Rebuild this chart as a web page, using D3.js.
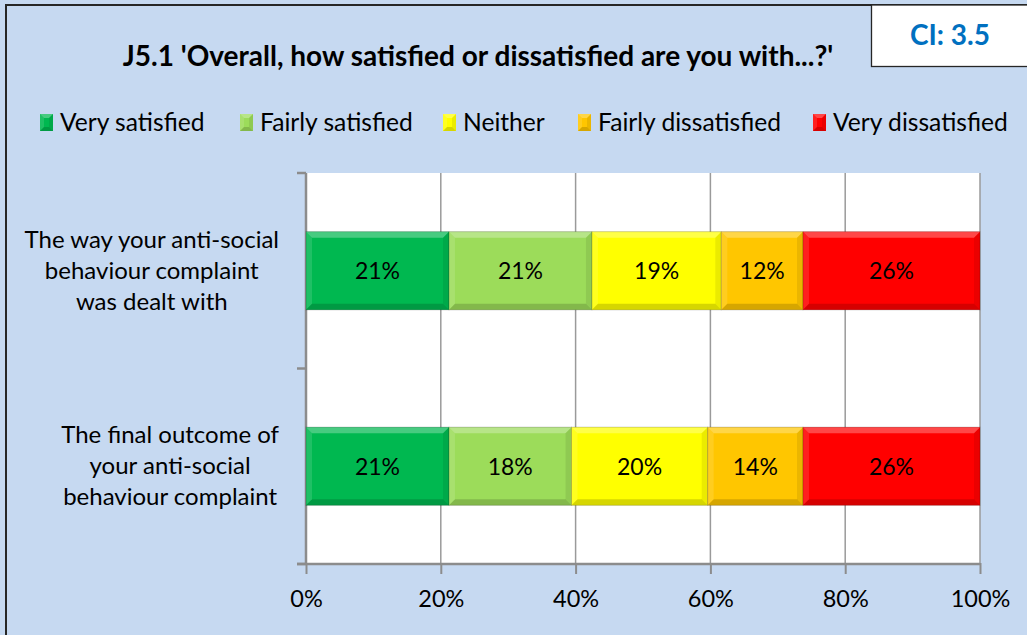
<!DOCTYPE html>
<html>
<head>
<meta charset="utf-8">
<script src="https://cdn.jsdelivr.net/npm/d3@7"></script>
<style>
  html, body { margin: 0; padding: 0; background: #c6d9f1; }
  svg { display: block; font-family: Lato, "Open Sans", sans-serif; }
</style>
</head>
<body>
<svg id="chart" width="1027" height="635"></svg>
<script>
// Satisfaction with ASB complaint handling (percentages)
const categories = [
  "The way your anti-social behaviour complaint was dealt with",
  "The final outcome of your anti-social behaviour complaint"
];
const categoryLines = [
  ["The way your anti-social", "behaviour complaint", "was dealt with"],
  ["The final outcome of", "your anti-social", "behaviour complaint"]
];
const seriesNames = ["Very satisfied", "Fairly satisfied", "Neither", "Fairly dissatisfied", "Very dissatisfied"];
const seriesColors = ["#00b850", "#9cdc5a", "#ffff00", "#ffc600", "#ff0000"];
const verySatisfied = [21, 21];
const fairlySatisfied = [21, 18];
const neither = [19, 20];
const fairlyDissatisfied = [12, 14];
const veryDissatisfied = [26, 26];
const tickValues = [0, 0.2, 0.4, 0.6, 0.8, 1];
const titleText = "J5.1 'Overall, how satisfied or dissatisfied are you with...?'";
const ciText = "CI: 3.5";

const rows = categories.map((c, i) => ({
  category: c,
  "Very satisfied": verySatisfied[i],
  "Fairly satisfied": fairlySatisfied[i],
  "Neither": neither[i],
  "Fairly dissatisfied": fairlyDissatisfied[i],
  "Very dissatisfied": veryDissatisfied[i]
}));

const svg = d3.select("#chart");
const W = 1027, H = 635;

// chart area background and frame
svg.append("rect").attr("x", 6).attr("y", 5).attr("width", W + 10).attr("height", H + 10)
  .attr("fill", "#c6d9f1").attr("stroke", "#262626").attr("stroke-width", 2);

// CI box
svg.append("rect").attr("x", 871.5).attr("y", 5).attr("width", 200).attr("height", 61.5)
  .attr("fill", "#ffffff").attr("stroke", "#262626").attr("stroke-width", 1.3);
svg.append("text").attr("x", 950).attr("y", 45).attr("text-anchor", "middle")
  .attr("font-size", 28).attr("font-weight", "bold").attr("fill", "#0070c0").text(ciText);

// title
svg.append("text").attr("x", 478).attr("y", 66).attr("text-anchor", "middle")
  .attr("font-size", 28).attr("font-weight", "bold").attr("fill", "#000").text(titleText);

const plot = { left: 306, right: 980, top: 173, bottom: 564 };

const x = d3.scaleLinear().domain([0, 1]).range([plot.left, plot.right]);
const y = d3.scaleBand().domain(categories).range([plot.top, plot.bottom]).paddingInner(0.6).paddingOuter(0.3);
const color = d3.scaleOrdinal().domain(seriesNames).range(seriesColors);

// plot area
svg.append("rect").attr("x", plot.left).attr("y", plot.top)
  .attr("width", plot.right - plot.left).attr("height", plot.bottom - plot.top).attr("fill", "#ffffff");

// vertical gridlines
svg.append("g").selectAll("line").data(tickValues.slice(1)).join("line")
  .attr("x1", d => x(d)).attr("x2", d => x(d))
  .attr("y1", plot.top).attr("y2", plot.bottom)
  .attr("stroke", "#9a9a9a").attr("stroke-width", 1.5);

// x axis
const xAxis = d3.axisBottom(x).tickValues(tickValues).tickFormat(d3.format(".0%")).tickSize(10).tickPadding(16);
const gx = svg.append("g").attr("transform", `translate(0,${plot.bottom})`).call(xAxis);
gx.select(".domain").attr("stroke", "#8c8c8c").attr("stroke-width", 2.5)
  .attr("d", `M${plot.left - 9},0H${plot.right}`);
gx.selectAll(".tick line").attr("stroke", "#8c8c8c").attr("stroke-width", 2).attr("y1", -1).attr("y2", 10);
gx.selectAll(".tick text").attr("font-size", 23.5).attr("fill", "#000").attr("font-family", "Lato, sans-serif");

// y axis line and category separators
svg.append("line").attr("x1", plot.left).attr("x2", plot.left).attr("y1", plot.top).attr("y2", plot.bottom)
  .attr("stroke", "#8c8c8c").attr("stroke-width", 2.5);
const step = (plot.bottom - plot.top) / categories.length;
svg.append("g").selectAll("line").data(d3.range(categories.length + 1)).join("line")
  .attr("x1", plot.left - 9).attr("x2", plot.left)
  .attr("y1", d => plot.top + d * step).attr("y2", d => plot.top + d * step)
  .attr("stroke", "#8c8c8c").attr("stroke-width", 2.5);

// category labels: each block right-aligned to the axis, lines centred within it
const catG = svg.append("g");
categories.forEach((c, i) => {
  const cy = y(c) + y.bandwidth() / 2;
  const lines = categoryLines[i];
  const t = catG.append("text").attr("text-anchor", "middle").attr("font-size", 24).attr("fill", "#000");
  const spans = lines.map((ln, j) =>
    t.append("tspan").attr("y", cy + (j - (lines.length - 1) / 2) * 31 + 8).text(ln));
  const maxW = d3.max(spans, s => s.node().getComputedTextLength());
  spans.forEach(s => s.attr("x", 279 - maxW / 2));
});

// stacked 100% bars
const stack = d3.stack().keys(seriesNames).offset(d3.stackOffsetExpand);
const layers = stack(rows);

function bevel(g, x0, y0, w, h, b) {
  const pts = (arr) => arr.map(p => p.join(",")).join(" ");
  g.append("polygon").attr("points", pts([[x0, y0], [x0 + w, y0], [x0 + w - b, y0 + b], [x0 + b, y0 + b]]))
    .attr("fill", "#ffffff").attr("opacity", 0.28);
  g.append("polygon").attr("points", pts([[x0, y0], [x0 + b, y0 + b], [x0 + b, y0 + h - b], [x0, y0 + h]]))
    .attr("fill", "#ffffff").attr("opacity", 0.12);
  g.append("polygon").attr("points", pts([[x0, y0 + h], [x0 + b, y0 + h - b], [x0 + w - b, y0 + h - b], [x0 + w, y0 + h]]))
    .attr("fill", "#000000").attr("opacity", 0.16);
  g.append("polygon").attr("points", pts([[x0 + w, y0], [x0 + w, y0 + h], [x0 + w - b, y0 + h - b], [x0 + w - b, y0 + b]]))
    .attr("fill", "#000000").attr("opacity", 0.08);
}

const barsG = svg.append("g");
layers.forEach(layer => {
  layer.forEach(d => {
    const x0 = x(d[0]), x1 = x(d[1]);
    const y0 = y(d.data.category), h = y.bandwidth();
    const g = barsG.append("g");
    g.append("rect").attr("x", x0).attr("y", y0).attr("width", x1 - x0).attr("height", h)
      .attr("fill", color(layer.key));
    bevel(g, x0, y0, x1 - x0, h, 6);
    g.append("rect").attr("x", x0).attr("y", y0).attr("width", x1 - x0).attr("height", h)
      .attr("fill", "none").attr("stroke", "#000").attr("stroke-opacity", 0.18).attr("stroke-width", 1);
    g.append("text").attr("x", (x0 + x1) / 2).attr("y", y0 + h / 2 + 8.5)
      .attr("text-anchor", "middle").attr("font-size", 23).attr("fill", "#000")
      .text(d.data[layer.key] + "%");
  });
});

// legend
const legendX = [40, 240, 443, 578, 813];
const legG = svg.append("g");
seriesNames.forEach((s, i) => {
  const g = legG.append("g").attr("transform", `translate(${legendX[i]},114)`);
  g.append("rect").attr("width", 13).attr("height", 17).attr("fill", color(s));
  bevel(g, 0, 0, 13, 17, 4);
  g.append("text").attr("x", 20).attr("y", 17).attr("font-size", 24.6).attr("fill", "#000").text(s);
});
</script>
</body>
</html>
